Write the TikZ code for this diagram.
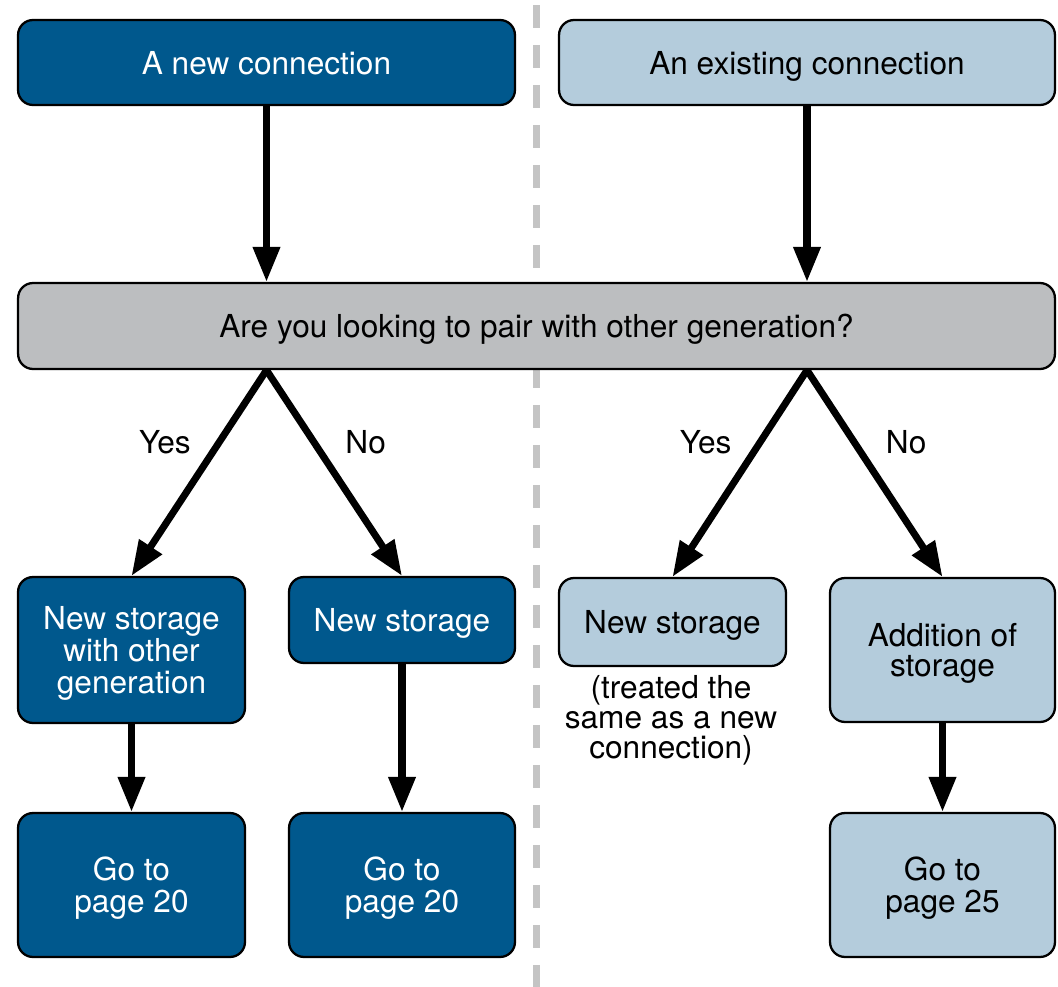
\documentclass[tikz,border=0pt]{standalone}
\usepackage{fontspec}
\setmainfont{TeX Gyre Heros}
\usepackage{tikz}
\usetikzlibrary{arrows.meta}
\definecolor{darkbox}{HTML}{00588D}
\definecolor{lightbox}{HTML}{B4CCDC}
\definecolor{askbox}{HTML}{BCBEC0}
\definecolor{divider}{HTML}{C4C4C4}

\begin{document}
\begin{tikzpicture}[x=0.02cm, y=-0.02cm,
  box/.style={draw=black, line width=1.3pt, rounded corners=0.3cm, align=center,
    inner sep=0pt, text depth=0pt, font=\fontsize{18}{18.3}\selectfont},
  newbox/.style={box, fill=darkbox, text=white},
  oldbox/.style={box, fill=lightbox, text=black},
  flow/.style={line width=4pt, -{Triangle[length=0.7cm, width=0.52cm]}},
  answer/.style={inner sep=0pt, font=\fontsize{18}{18.3}\selectfont}]
\newcommand{\midx}{536.5}
\useasboundingbox (0,0) rectangle (1058,987);
% dividing line between the two cases
\draw[divider, line width=0.14cm, dash pattern=on 0.46cm off 0.34cm] (\midx,5) -- (\midx,987);

% top row
\node[newbox, minimum width=9.94cm, minimum height=1.7cm] (newconn) at (266.5,62.5) {A new connection};
\node[oldbox, minimum width=9.92cm, minimum height=1.7cm] (oldconn) at (807,62.5) {An existing connection};
\node[box, fill=askbox, minimum width=20.74cm, minimum height=1.72cm] (question) at (\midx,326)
  {Are you looking to pair with other generation?};

% new connection side
\node[newbox, minimum width=4.54cm, minimum height=2.92cm] (nsother) at (131.5,650) {New storage\\with other\\generation};
\node[newbox, minimum width=4.52cm, minimum height=1.72cm] (nsnew) at (402,620) {New storage};
\node[newbox, minimum width=4.54cm, minimum height=2.88cm] (gotoa) at (131.5,885) {Go to\\page 20};
\node[newbox, minimum width=4.52cm, minimum height=2.88cm] (gotob) at (402,885) {Go to\\page 20};

% existing connection side
\node[oldbox, minimum width=4.54cm, minimum height=1.76cm] (nsold) at (672.5,622) {New storage};
\node[answer, align=center, font=\fontsize{18}{17}\selectfont] (note) at (671,720)
  {(treated the\\same as a new\\connection)};
\node[oldbox, minimum width=4.5cm, minimum height=2.88cm, font=\fontsize{18}{17}\selectfont] (addition) at (942.5,650)
  {Addition of\\storage};
\node[oldbox, minimum width=4.5cm, minimum height=2.88cm] (gotoc) at (942.5,885) {Go to\\page 25};

\draw[flow] (newconn.south) -- (newconn.south |- question.north);
\draw[flow] (oldconn.south) -- (oldconn.south |- question.north);
\draw[flow] (newconn.south |- question.south) -- node[answer, pos=0.35, left=0.5cm] {Yes} (nsother.north);
\draw[flow] (newconn.south |- question.south) -- node[answer, pos=0.35, right=0.56cm] {No} (nsnew.north);
\draw[flow] (oldconn.south |- question.south) -- node[answer, pos=0.35, left=0.5cm] {Yes} (nsold.north);
\draw[flow] (oldconn.south |- question.south) -- node[answer, pos=0.35, right=0.56cm] {No} (addition.north);
\draw[flow] (nsother) -- (gotoa);
\draw[flow] (nsnew) -- (gotob);
\draw[flow] (addition) -- (gotoc);
\end{tikzpicture}
\end{document}
